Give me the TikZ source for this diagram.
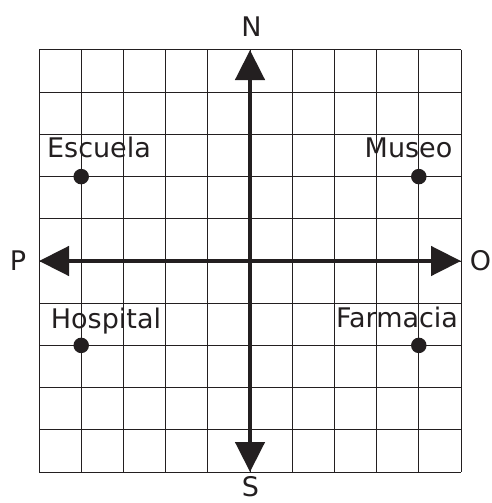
\documentclass[tikz,border=0pt]{standalone}
\usepackage{fontspec}
\setmainfont{DejaVu Sans}
\usetikzlibrary{arrows.meta}
\definecolor{ink}{HTML}{231F20}
\tikzset{
  gridline/.style={draw=ink, line width=1pt},
  axisline/.style={draw=ink, line width=4.6pt,
    -{Triangle[length=30pt,width=29pt]}},
  place/.style={circle, fill=ink, inner sep=0pt, minimum size=15.5pt},
  lbl/.style={anchor=base, inner sep=0pt, text=ink,
    font=\fontsize{27}{32}\selectfont},
}
\begin{document}
\begin{tikzpicture}[x=1pt,y=-1pt]
  \useasboundingbox (0,0) rectangle (491,503);
  % grid
  \foreach \i in {0,...,10} {
    \draw[gridline] ({39+42.2*\i},50) -- ({39+42.2*\i},472);
    \draw[gridline] (39,{50+42.2*\i}) -- (461,{50+42.2*\i});
  }
  % axis ends
  \coordinate (c) at (250,261);
  \coordinate (north) at (250,50);
  \coordinate (south) at (250,472);
  \coordinate (west) at (39,261);
  \coordinate (east) at (461,261);
  \draw[axisline] (c) -- (north);
  \draw[axisline] (c) -- (south);
  \draw[axisline] (c) -- (west);
  \draw[axisline] (c) -- (east);
  % direction labels
  \node[lbl] (N) at (251.5,36.5) {N};
  \node[lbl] (S) at (250.5,496) {S};
  \node[lbl] (P) at (18,270) {P};
  \node[lbl] (O) at (480.5,270) {O};
  % places
  \node[place] (escuela) at (81.2,176.6) {};
  \node[place] (museo) at (418.8,176.6) {};
  \node[place] (hospital) at (81.2,345.4) {};
  \node[place] (farmacia) at (418.8,345.4) {};
  \node[lbl] (tescuela) at (99,157) {Escuela};
  \node[lbl] (tmuseo) at (408.5,157) {Museo};
  \node[lbl] (thospital) at (106,328.5) {Hospital};
  \node[lbl] (tfarmacia) at (397,327) {Farmacia};
\end{tikzpicture}
\end{document}
